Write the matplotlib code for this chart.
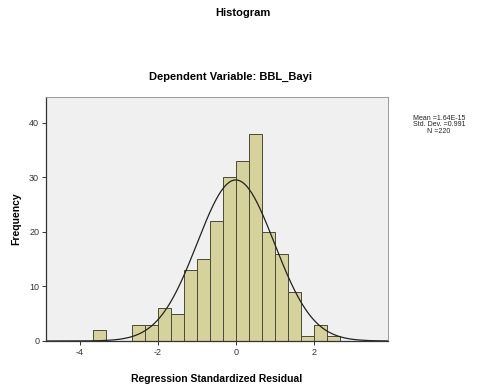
import numpy as np
import matplotlib.pyplot as plt

plt.rcParams['font.family'] = ['Liberation Sans', 'DejaVu Sans']
plt.rcParams['axes.unicode_minus'] = False

# histogram bins (width 1/3) and counts
bin_left = [-11, -10, -9, -8, -7, -6, -5, -4, -3, -2, -1, 0, 1, 2, 3, 4, 5, 6, 7]
counts = [2, 0, 0, 3, 3, 6, 5, 13, 15, 22, 30, 33, 38, 20, 16, 9, 1, 3, 1]
bin_width = 1 / 3
mean_val = 1.64e-15
std_val = 0.991
n_total = 220

x_ticks = [-4, -2, 0, 2]
y_ticks = [0, 10, 20, 30, 40]

fig = plt.figure(figsize=(4.85, 3.84), dpi=100)
ax = fig.add_axes([0.095, 0.112, 0.705, 0.635])
ax.set_facecolor('#f0f0f0')

lefts = np.array(bin_left) * bin_width
ax.bar(lefts, counts, width=bin_width, align='edge', color='#d6d29b',
       edgecolor='#4a4a3a', linewidth=0.7)

xs = np.linspace(-4.86, 3.9, 400)
ys = n_total * bin_width / (std_val * np.sqrt(2 * np.pi)) * np.exp(-0.5 * ((xs - mean_val) / std_val) ** 2)
ax.plot(xs, ys, color='#222222', linewidth=0.9)

ax.set_xlim(-4.86, 3.9)
ax.set_ylim(0, 44.7)
ax.set_xticks(x_ticks)
ax.set_yticks(y_ticks)
ax.tick_params(labelsize=6.5, colors='#333333', length=3, width=0.7, pad=2)
for s in ['left', 'bottom']:
    ax.spines[s].set_color('#333333')
    ax.spines[s].set_linewidth(0.9)
for s in ['top', 'right']:
    ax.spines[s].set_color('#999999')
    ax.spines[s].set_linewidth(0.7)

ax.set_xlabel('Regression Standardized Residual', fontsize=7.5, fontweight='bold', labelpad=12)
ax.set_ylabel('Frequency', fontsize=7.5, fontweight='bold', labelpad=6)

fig.text(0.5, 0.965, 'Histogram', ha='center', va='center', fontsize=8, fontweight='bold')
fig.text(0.475, 0.80, 'Dependent Variable: BBL_Bayi', ha='center', va='center',
         fontsize=8, fontweight='bold')
fig.text(0.905, 0.675,
         'Mean =%.2E\nStd. Dev. =%.3f\nN =%d' % (mean_val, std_val, n_total),
         ha='center', va='center', fontsize=5, linespacing=0.95, color='#222222')

fig.savefig('out.png', dpi=100)
plt.close(fig)
